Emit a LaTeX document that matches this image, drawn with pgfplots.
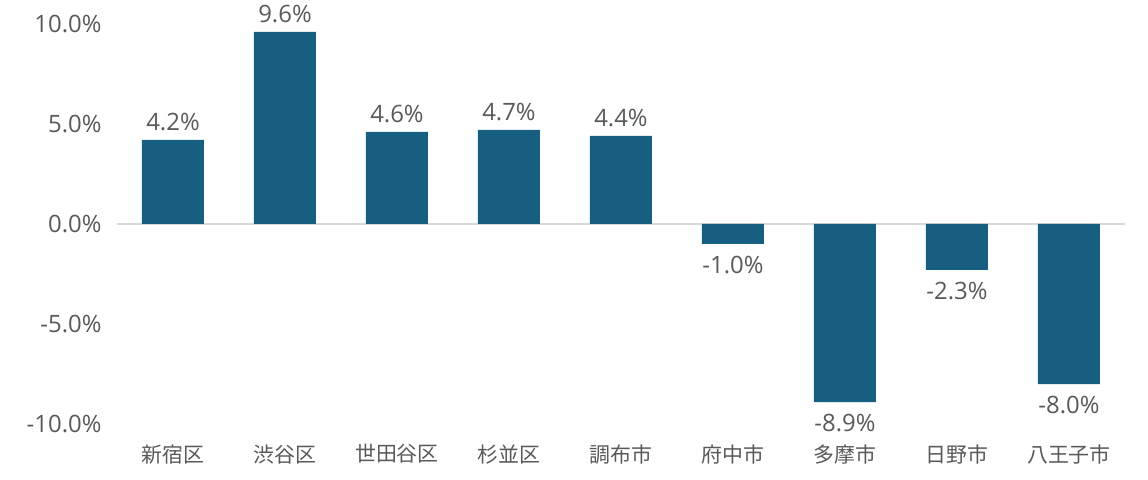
\documentclass[border=0pt]{standalone}
\usepackage{pgfplots}
\pgfplotsset{compat=1.18}
\usepackage{fontspec}
\setmainfont{Noto Sans CJK JP}
\newfontfamily\numfont{Open Sans}
\definecolor{barc}{HTML}{175F80}
\definecolor{txt}{HTML}{595959}
\definecolor{zl}{HTML}{D9D9D9}
\begin{document}
\begin{tikzpicture}
\path[use as bounding box] (-117bp,-56bp) rectangle (1031bp,424bp);
\begin{axis}[
  scale only axis,
  width=1008bp, height=400bp,
  at={(0,0)}, anchor=south west,
  xmin=-0.5, xmax=8.5,
  ymin=-10, ymax=10,
  ybar, bar width=62bp, bar shift=0pt,
  axis line style={draw=none},
  major tick length=0pt,
  xtick={0,...,8},
  xticklabels={新宿区,渋谷区,世田谷区,杉並区,調布市,府中市,多摩市,日野市,八王子市},
  ytick={-10,-5,0,5,10},
  yticklabels={-10.0\%,-5.0\%,0.0\%,5.0\%,10.0\%},
  xticklabel style={font=\fontsize{21}{24}\selectfont, text=txt, yshift=-17bp},
  yticklabel style={font=\numfont\fontsize{24}{28}\selectfont, text=txt, xshift=-12bp},
  extra y ticks={0},
  extra y tick labels={},
  extra y tick style={grid=major, major grid style={draw=zl, line width=1.5bp}},
  point meta=explicit symbolic,
  nodes near coords,
  clip=false,
]
\addplot[fill=barc, draw=none,
  every node near coord/.append style={font=\numfont\fontsize{24}{28}\selectfont, text=txt, anchor=south, yshift=6bp}]
  coordinates {(0,4.2)[4.2\%] (1,9.6)[9.6\%] (2,4.6)[4.6\%] (3,4.7)[4.7\%] (4,4.4)[4.4\%]};
\addplot[fill=barc, draw=none,
  every node near coord/.append style={font=\numfont\fontsize{24}{28}\selectfont, text=txt, anchor=north, yshift=-9bp}]
  coordinates {(5,-1.0)[-1.0\%] (6,-8.9)[-8.9\%] (7,-2.3)[-2.3\%] (8,-8.0)[-8.0\%]};
\end{axis}
\end{tikzpicture}
\end{document}
